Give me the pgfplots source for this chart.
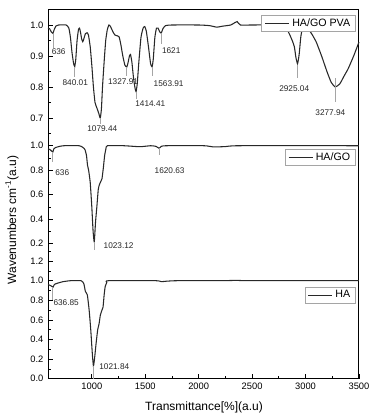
\documentclass[border=0pt]{standalone}
\usepackage{fontspec}
\setmainfont{Liberation Sans}
\usepackage{pgfplots}
\pgfplotsset{compat=1.18}
\definecolor{curve}{RGB}{40,40,40}
\definecolor{mk}{RGB}{165,165,165}
\pgfplotsset{
  panel/.style={
    scale only axis, width=233.25pt, xmin=590, xmax=3500,
    hide x axis, axis y line*=left, clip=false,
    tick align=inside, major tick length=3.5pt, minor tick length=2pt,
    tick style={black, line width=0.6pt},
    axis line style={line width=0.75pt},
    /pgf/number format/assume math mode=true,
    yticklabel style={font=\fontsize{7}{8}\selectfont, /pgf/number format/fixed, /pgf/number format/fixed zerofill, /pgf/number format/precision=1},
    legend cell align=left,
    legend image code/.code={\draw[#1] (0pt,0pt) -- (18pt,0pt);},
    legend style={anchor=north east, draw=mk, line width=0.6pt, font=\fontsize{8}{9}\selectfont, inner xsep=2pt, inner ysep=0.5pt},
  },
  spec/.style={color=curve, line width=0.8pt, mark=none, smooth, tension=0.3},
}
\newcommand{\pk}[4]{\draw[mk, line width=0.7pt] (axis cs:#1,#2) -- (axis cs:#1,#3);}
\newcommand{\lb}[3]{\node[font=\fontsize{6.2}{7}\selectfont, text=black!85, inner sep=0pt] at (axis cs:#1,#2) {#3};}
\begin{document}
\begin{tikzpicture}
\useasboundingbox (0,0) rectangle (285.75pt,314.25pt);
% frame axis
\begin{axis}[
  at={(36pt,30.225pt)}, anchor=south west,
  scale only axis, width=233.25pt, height=277.275pt,
  xmin=590, xmax=3500, ymin=0, ymax=1,
  ytick=\empty, xtick={1000,1500,...,3500}, minor x tick num=1,
  xtick pos=left, tick align=inside, major tick length=3.5pt, minor tick length=2pt,
  tick style={black, line width=0.6pt},
  axis line style={line width=0.75pt},
  /pgf/number format/assume math mode=true,
  xticklabel style={font=\fontsize{7}{8}\selectfont, /pgf/number format/1000 sep={}},
]
\end{axis}
% bottom panel HA
\begin{axis}[panel, at={(36pt,30.225pt)}, anchor=south west, height=95.55pt,
  ymin=0, ymax=1.3, ytick={0,0.2,0.4,0.6,0.8,1.0,1.2}, minor ytick={0.1,0.3,0.5,0.7,0.9,1.1,1.3},
  legend style={at={(0.99,0.722)}}]
\addplot[spec] coordinates {
(590,0.96) (615,0.95) (637,0.935) (650,0.962) (680,0.975) (730,0.99) (800,1.0) (900,1.0)
(925,0.97) (940,0.89) (958,0.855) (975,0.70) (990,0.50) (1005,0.25) (1015,0.13) (1025,0.20)
(1040,0.36) (1055,0.50) (1068,0.56) (1080,0.65) (1095,0.70) (1105,0.73) (1115,0.85) (1125,0.94)
(1140,0.98) (1155,1.0) (1600,1.0) (1650,0.99) (1700,0.995) (1800,1.0) (2200,1.0) (2350,1.003) (2500,1.0) (3500,1.0)};
\addlegendentry{HA}
\pk{630}{0.94}{0.80}{}
\pk{1019}{0.13}{0.0}{}
\lb{760}{0.776}{636.85}
\lb{1210}{0.122}{1021.84}
\end{axis}
% middle panel HA/GO
\begin{axis}[panel, at={(36pt,125.775pt)}, anchor=south west, height=83.775pt,
  ymin=0.138, ymax=1.05, ytick={0.2,0.4,0.6,0.8,1.0}, minor ytick={0.3,0.5,0.7,0.9},
  legend style={at={(0.99,0.916)}}]
\addplot[spec] coordinates {
(590,0.975) (610,0.968) (625,0.955) (636,0.95) (645,0.975) (660,0.985) (700,0.995) (740,1.0)
(880,1.0) (910,0.99) (935,0.97) (950,0.92) (960,0.84) (970,0.80) (985,0.70) (1000,0.50)
(1012,0.30) (1023,0.215) (1035,0.38) (1047,0.50) (1060,0.64) (1070,0.68) (1085,0.71) (1095,0.73)
(1108,0.82) (1120,0.92) (1132,0.975) (1145,1.0) (1300,1.0) (1450,0.992) (1550,1.0) (1600,0.995)
(1630,0.979) (1650,0.995) (1700,1.0) (2050,1.0) (2140,0.99) (2250,0.993) (2380,1.0) (3500,1.0)};
\addlegendentry{HA/GO}
\pk{636}{0.95}{0.87}{}
\pk{1023}{0.215}{0.15}{}
\pk{1630}{0.979}{0.925}{}
\lb{723}{0.777}{636}
\lb{1251}{0.181}{1023.12}
\lb{1728}{0.793}{1620.63}
\end{axis}
% top panel HA/GO PVA
\begin{axis}[panel, at={(36pt,209.55pt)}, anchor=south west, height=97.95pt,
  ymin=0.6303, ymax=1.0516, ytick={0.7,0.8,0.9,1.0}, minor ytick={0.65,0.75,0.85,0.95,1.05},
  legend style={at={(0.99,0.954)}}]
\addplot[spec] coordinates {
(590,0.99) (605,0.988) (620,0.978) (636,0.973) (648,0.985) (665,0.997) (690,1.0) (760,1.0)
(785,0.99) (800,0.96) (815,0.91) (830,0.875) (840,0.866) (850,0.89) (862,0.95) (875,0.985)
(885,0.99) (895,0.975) (905,0.955) (915,0.946) (925,0.955) (940,0.972) (955,0.975) (968,0.968)
(985,0.93) (1000,0.87) (1015,0.80) (1030,0.75) (1050,0.73) (1065,0.715) (1079,0.70) (1090,0.73)
(1100,0.80) (1115,0.88) (1130,0.95) (1145,0.985) (1160,1.0) (1175,0.995) (1195,0.98) (1215,0.968)
(1240,0.965) (1255,0.962) (1270,0.94) (1290,0.90) (1310,0.87) (1328,0.865) (1340,0.88) (1352,0.90)
(1362,0.905) (1375,0.88) (1390,0.83) (1405,0.795) (1414,0.785) (1425,0.81) (1440,0.88) (1460,0.96)
(1480,0.99) (1495,0.995) (1510,0.98) (1530,0.93) (1550,0.875) (1564,0.865) (1575,0.89) (1590,0.96)
(1605,0.99) (1620,0.99) (1635,0.978) (1650,0.974) (1665,0.988) (1690,0.998) (1750,1.0) (2000,1.0)
(2100,0.998) (2170,0.993) (2220,0.996) (2300,1.0) (2340,1.008) (2360,1.011) (2390,1.0) (2500,1.0)
(2790,1.0) (2820,0.99) (2850,0.97) (2875,0.95) (2895,0.93) (2910,0.895) (2925,0.875) (2940,0.905)
(2955,0.96) (2970,0.99) (2988,1.0) (3000,0.997) (3030,0.985) (3060,0.97) (3100,0.945) (3150,0.90)
(3200,0.85) (3240,0.815) (3278,0.80) (3320,0.81) (3360,0.835) (3400,0.86) (3450,0.90) (3500,0.945)};
\addlegendentry{HA/GO PVA}
\pk{640}{0.972}{0.927}{}
\pk{840}{0.866}{0.833}{}
\pk{1079}{0.70}{0.68}{}
\pk{1328}{0.865}{0.835}{}
\pk{1414}{0.785}{0.76}{}
\pk{1564}{0.865}{0.835}{}
\pk{1650}{0.974}{0.94}{}
\pk{2925}{0.872}{0.828}{}
\pk{3282}{0.829}{0.753}{}
\lb{690}{0.914}{636}
\lb{845}{0.814}{840.01}
\lb{1098}{0.667}{1079.44}
\lb{1292}{0.816}{1327.91}
\lb{1547}{0.745}{1414.41}
\lb{1719}{0.81}{1563.91}
\lb{1743}{0.916}{1621}
\lb{2894}{0.794}{2925.04}
\lb{3232}{0.716}{3277.94}
\end{axis}
\node[font=\fontsize{9}{10}\selectfont] at (153pt,9pt) {Transmittance[\%](a.u)};
\node[font=\fontsize{9}{10}\selectfont, rotate=90] at (9pt,149.25pt) {Wavenumbers cm\textsuperscript{-1}(a.u)};
\end{tikzpicture}
\end{document}
